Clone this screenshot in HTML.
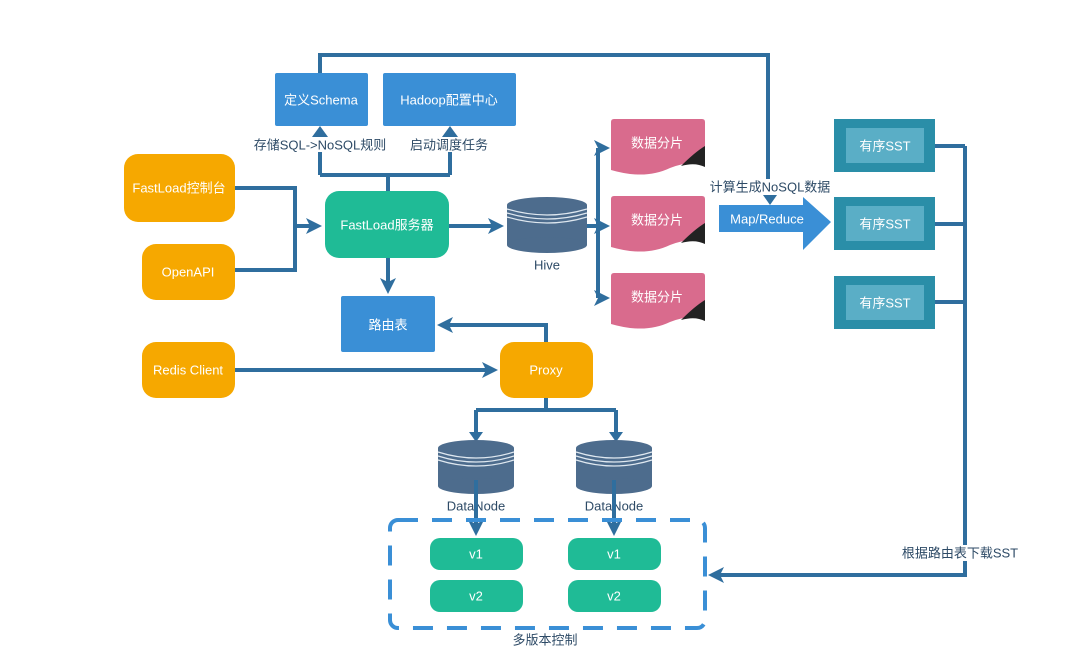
<!DOCTYPE html>
<html><head><meta charset="utf-8"><style>
html,body{margin:0;padding:0;background:#fff;}
svg{display:block;}
text{font-family:"Liberation Sans","Noto Sans CJK SC",sans-serif;}
.w{fill:#fff;font-size:13px;text-anchor:middle;dominant-baseline:central;}
.d{fill:#2d4a66;font-size:13px;text-anchor:middle;dominant-baseline:central;}
.l{stroke:#2f6e9e;stroke-width:4;fill:none;}
</style></head><body>
<svg width="1080" height="661" viewBox="0 0 1080 661" xmlns="http://www.w3.org/2000/svg">
<defs>
<marker id="a" markerWidth="4" markerHeight="4" refX="3" refY="2" orient="auto" markerUnits="strokeWidth"><path d="M0,0 L4,2 L0,4 L1,2 z" fill="#2f6e9e"/></marker>
</defs>
<!-- connectors -->
<path class="l" d="M320,73 V55 H768 V195" />
<path class="l" d="M320,175 H450 M388,175 V191" />
<path class="l" d="M320,175 V134 M450,175 V134"/>
<path class="l" d="M235,188 H295 V270 H235 M295,226 H318" marker-end="url(#a)"/>
<path class="l" d="M449,226 H500" marker-end="url(#a)"/>
<path class="l" d="M587,226 H598 M598,148 V298"/>
<path class="l" d="M598,148 H606" marker-end="url(#a)"/>
<path class="l" d="M598,226 H606" marker-end="url(#a)"/>
<path class="l" d="M598,298 H606" marker-end="url(#a)"/>
<path class="l" d="M388,258 V290" marker-end="url(#a)"/>
<path class="l" d="M546,342 V325 H441" marker-end="url(#a)"/>
<path class="l" d="M235,370 H494" marker-end="url(#a)"/>
<path class="l" d="M546,398 V410 M476,410 H616 M476,410 V434 M616,410 V434" />
<path d="M469,432 H483 L476,442 z M609,432 H623 L616,442 z" fill="#2f6e9e"/>
<path class="l" d="M935,146 H965 M935,224 H965 M935,302 H965 M965,146 V575 H712" marker-end="url(#a)"/>
<!-- label backgrounds -->
<rect x="252" y="137" width="136" height="15" fill="#fff"/>
<rect x="407" y="137" width="85" height="15" fill="#fff"/>
<rect x="707" y="179" width="126" height="16" fill="#fff"/>
<rect x="899" y="545" width="122" height="16" fill="#fff"/>
<path d="M763,195 H777 L770,205 z" fill="#2f6e9e"/>
<path d="M312,137 H328 L320,126 z M442,137 H458 L450,126 z" fill="#2f6e9e"/>
<!-- top boxes -->
<rect x="275" y="73" width="93" height="53" fill="#3a8fd6" rx="2"/>
<text class="w" x="321" y="100">定义Schema</text>
<rect x="383" y="73" width="133" height="53" fill="#3a8fd6" rx="2"/>
<text class="w" x="449" y="100">Hadoop配置中心</text>
<text class="d" x="320" y="145">存储SQL-&gt;NoSQL规则</text>
<text class="d" x="449" y="145">启动调度任务</text>
<!-- orange -->
<rect x="124" y="154" width="111" height="68" rx="14" fill="#f6a800"/>
<text class="w" x="179" y="188">FastLoad控制台</text>
<rect x="142" y="244" width="93" height="56" rx="14" fill="#f6a800"/>
<text class="w" x="188" y="272">OpenAPI</text>
<rect x="142" y="342" width="93" height="56" rx="14" fill="#f6a800"/>
<text class="w" x="188" y="370">Redis Client</text>
<rect x="500" y="342" width="93" height="56" rx="14" fill="#f6a800"/>
<text class="w" x="546" y="370">Proxy</text>
<!-- server -->
<rect x="325" y="191" width="124" height="67" rx="14" fill="#1fbb96"/>
<text class="w" x="387" y="225">FastLoad服务器</text>
<rect x="341" y="296" width="94" height="56" fill="#3a8fd6" rx="2"/>
<text class="w" x="388" y="325">路由表</text>
<!-- hive -->
<g fill="#4d6c8d">
<rect x="507" y="205" width="80" height="40"/>
<ellipse cx="547" cy="245" rx="40" ry="8"/>
<ellipse cx="547" cy="205" rx="40" ry="8"/>
</g>
<path d="M507,209 Q547,221 587,209 M507,213 Q547,225 587,213 M507,217 Q547,229 587,217" stroke="#dfe8f0" stroke-width="1.2" fill="none"/>
<text class="d" x="547" y="265" fill="#222">Hive</text>
<!-- pink shards -->
<g id="pk">
<path d="M611,122 Q611,119 614,119 H702 Q705,119 705,122 V165 Q690,160 670,168 Q645,180 611,170 z" fill="#d96b8d"/>
<path d="M681,166 Q695,152 705,146 V167 Q695,162 681,166 z" fill="#222"/>
<text class="w" x="657" y="143">数据分片</text>
</g>
<use href="#pk" y="77"/>
<use href="#pk" y="154"/>
<!-- map reduce -->
<path d="M719,205 H803 V197 L831,222 L803,250 V232 H719 z" fill="#3a8fd6"/>
<text class="w" x="767" y="219">Map/Reduce</text>
<text class="d" x="770" y="187">计算生成NoSQL数据</text>
<!-- SST -->
<g id="sst">
<rect x="834" y="119" width="101" height="53" fill="#2a8ea8"/>
<rect x="846" y="128" width="78" height="35" fill="#5aaec6"/>
<text class="w" x="885" y="146">有序SST</text>
</g>
<use href="#sst" y="78"/>
<use href="#sst" y="157"/>
<text class="d" x="960" y="553">根据路由表下载SST</text>
<!-- datanodes -->
<g id="dn">
<g fill="#4d6c8d">
<rect x="438" y="448" width="76" height="38"/>
<ellipse cx="476" cy="486" rx="38" ry="8"/>
<ellipse cx="476" cy="448" rx="38" ry="8"/>
</g>
<path d="M438,452 Q476,464 514,452 M438,456 Q476,468 514,456 M438,460 Q476,472 514,460" stroke="#dfe8f0" stroke-width="1.2" fill="none"/>
<text class="d" x="476" y="506" fill="#222">DataNode</text>
<path class="l" d="M476,480 V532" marker-end="url(#a)"/>
<rect x="430" y="538" width="93" height="32" rx="10" fill="#1fbb96"/>
<text class="w" x="476" y="554">v1</text>
<rect x="430" y="580" width="93" height="32" rx="10" fill="#1fbb96"/>
<text class="w" x="476" y="596">v2</text>
</g>
<use href="#dn" x="138"/>
<rect x="390" y="520" width="315" height="108" rx="8" fill="none" stroke="#3a8fd6" stroke-width="4" stroke-dasharray="20,14"/>
<text class="d" x="545" y="640">多版本控制</text>
</svg>
</body></html>
